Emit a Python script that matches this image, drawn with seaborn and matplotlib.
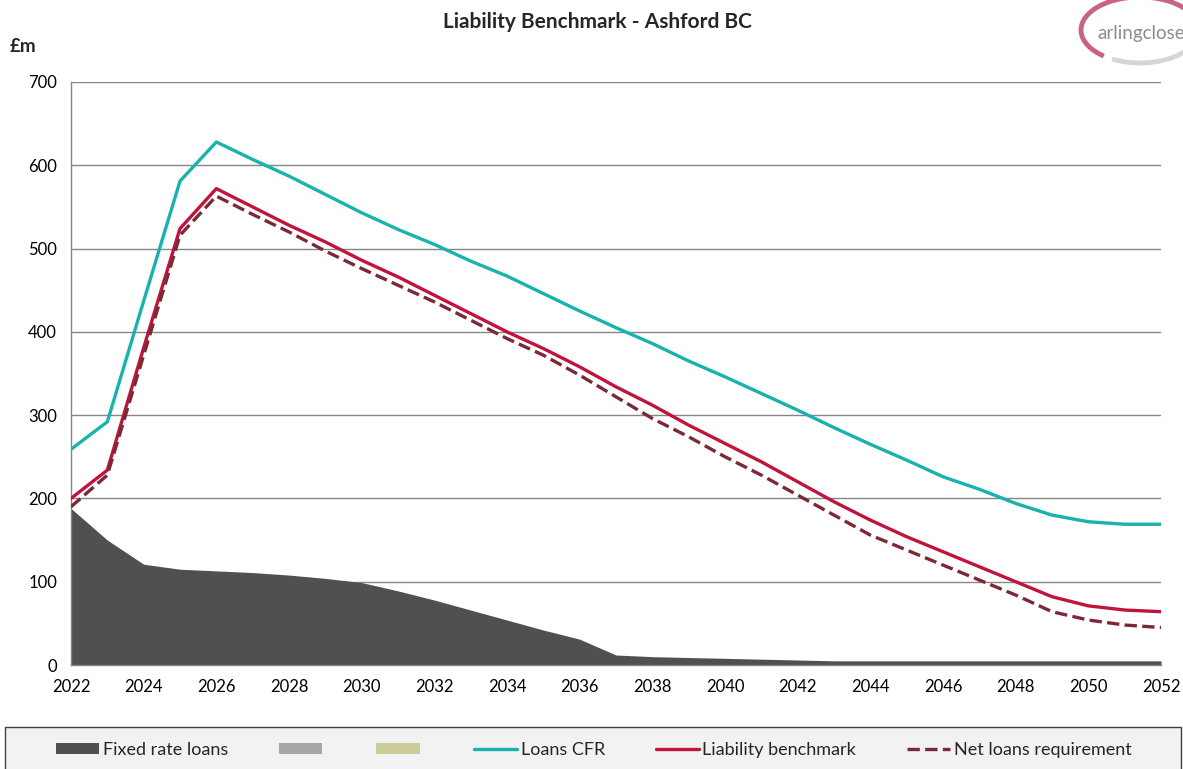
import matplotlib
matplotlib.use("Agg")
import matplotlib.pyplot as plt
import seaborn as sns
import numpy as np
import pandas as pd
from matplotlib.patches import Patch, Rectangle, Arc
from matplotlib.lines import Line2D

# ---------------- data ----------------
years = list(range(2022, 2053))
fixed_rate_loans = [188, 150, 121, 115, 113, 111, 108, 104, 99, 89, 78, 66, 54, 42, 31,
                    12, 10, 9, 8, 7, 6, 5, 5, 5, 5, 5, 5, 5, 5, 5, 5]
loans_cfr = [259, 292, 437, 581, 628, 607, 587, 565, 543, 523, 505, 485, 467, 446, 425,
             405, 386, 365, 346, 326, 306, 285, 265, 246, 226, 211, 194, 180, 172, 169, 169]
liability_benchmark = [200, 234, 381, 524, 572, 550, 528, 508, 486, 466, 444, 422, 400, 380, 358,
                       334, 312, 288, 266, 244, 220, 196, 174, 154, 136, 118, 100, 82, 71, 66, 64]
net_loans_requirement = [190, 228, 372, 516, 563, 541, 520, 497, 476, 456, 436, 414, 392, 372, 348,
                         322, 296, 274, 250, 228, 204, 180, 156, 138, 120, 102, 84, 64, 54, 48, 45]
legend_labels = ["Fixed rate loans", "", "", "Loans CFR", "Liability benchmark", "Net loans requirement"]
title = "Liability Benchmark - Ashford BC"
y_ticks = [0, 100, 200, 300, 400, 500, 600, 700]

df = pd.DataFrame({"year": years, "fixed": fixed_rate_loans, "cfr": loans_cfr,
                   "lb": liability_benchmark, "nlr": net_loans_requirement})

# ---------------- style ----------------
sns.set_theme(style="white")
plt.rcParams["font.family"] = ["Lato", "DejaVu Sans"]

C_FIXED = "#505050"
C_GREY = "#a6a6a6"
C_KHAKI = "#cccc99"
C_TEAL = "#19b2ae"
C_RED = "#c0143c"
C_DASH = "#7b2a35"
C_AXIS = "#868686"

W, H = 1183, 769
fig = plt.figure(figsize=(W / 100, H / 100), dpi=100)
ax = fig.add_axes([71 / W, 1 - 665 / H, (1161 - 71) / W, (665 - 82) / H])

ax.fill_between(df["year"], df["fixed"], 0, color=C_FIXED, lw=0, zorder=2)
sns.lineplot(data=df, x="year", y="cfr", ax=ax, color=C_TEAL, lw=2.4, zorder=4)
sns.lineplot(data=df, x="year", y="lb", ax=ax, color=C_RED, lw=2.4, zorder=4)
sns.lineplot(data=df, x="year", y="nlr", ax=ax, color=C_DASH, lw=2.4, linestyle="--", zorder=5)

ax.set_xlim(2022, 2052)
ax.set_ylim(0, 700)
ax.set_xlabel("")
ax.set_ylabel("")
ax.set_yticks(y_ticks)
ax.set_yticklabels([str(v) for v in y_ticks])
ax.set_xticks(years)
ax.set_xticklabels([str(y) if (y - 2022) % 2 == 0 else "" for y in years])
ax.tick_params(axis="both", direction="out", length=6, width=1, color=C_AXIS,
               labelsize=12, labelcolor="#000000", pad=4)
ax.yaxis.grid(True, color=C_AXIS, lw=1)
ax.set_axisbelow(True)
for s in ["top", "right"]:
    ax.spines[s].set_visible(False)
for s in ["left", "bottom"]:
    ax.spines[s].set_color(C_AXIS)
    ax.spines[s].set_linewidth(1)

# title and unit label
fig.text(597 / W, 1 - 22 / H, title, ha="center", va="center", fontsize=15, fontweight="bold")
fig.text(10 / W, 1 - 46 / H, "£m", ha="left", va="center", fontsize=13.5, fontweight="bold")

# logo
fig.add_artist(Arc((1140 / W, 1 - 30 / H), 118 / W, 66 / H, theta1=30, theta2=228,
                   color="#c86482", lw=3.5, transform=fig.transFigure, clip_on=False))
fig.add_artist(Arc((1140 / W, 1 - 30 / H), 118 / W, 66 / H, theta1=238, theta2=330,
                   color="#d6d6d6", lw=3.5, transform=fig.transFigure, clip_on=False))
fig.text(1097 / W, 1 - 34 / H, "arlingclose", ha="left", va="center", fontsize=13.5,
         color="#8c8c8c")

# legend box
fig.add_artist(Rectangle((5 / W, -0.02), 1176 / W, 0.02 + (H - 727) / H, transform=fig.transFigure,
                         facecolor="#f2f2f2", edgecolor="#404040", lw=1, clip_on=False, zorder=0))
handles = [Patch(facecolor=C_FIXED, edgecolor="none"),
           Patch(facecolor=C_GREY, edgecolor="none"),
           Patch(facecolor=C_KHAKI, edgecolor="none"),
           Line2D([0], [0], color=C_TEAL, lw=2.4),
           Line2D([0], [0], color=C_RED, lw=2.4),
           Line2D([0], [0], color=C_DASH, lw=2.4, linestyle="--")]
fig.legend(handles, legend_labels, loc="center left", bbox_to_anchor=(56 / W, 1 - 750 / H),
           ncol=6, frameon=False, fontsize=13, handlelength=2.4, handleheight=0.55,
           handletextpad=0.2, columnspacing=2.8, borderaxespad=0, borderpad=0)

fig.savefig("out.png", dpi=100)
